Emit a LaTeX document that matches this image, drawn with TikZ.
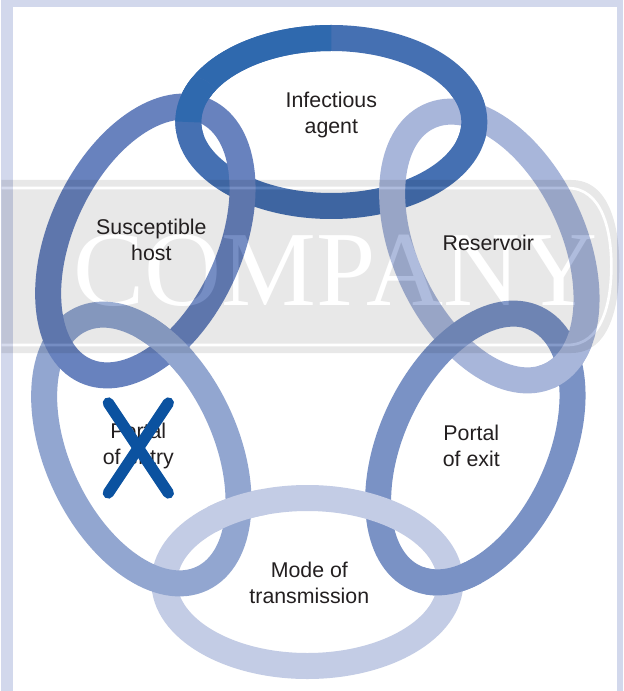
\documentclass[tikz,border=0pt]{standalone}
\usepackage{fontspec}
\setmainfont{Liberation Sans}
\newfontfamily\markfont{Liberation Serif}
\usepackage{tikz}
\usetikzlibrary{positioning}
\usepackage{xcolor}
\definecolor{frameblue}{HTML}{D2D8EC}
\definecolor{agentdark}{HTML}{2F69AE}
\definecolor{agentblue}{HTML}{4570B2}
\definecolor{hostblue}{HTML}{6882BE}
\definecolor{reservoirblue}{HTML}{A8B6DA}
\definecolor{exitblue}{HTML}{7A92C5}
\definecolor{modeblue}{HTML}{C3CCE5}
\definecolor{entryblue}{HTML}{92A6D0}
\definecolor{crossblue}{HTML}{0B52A0}
\definecolor{labelgray}{HTML}{231F20}
\newcommand{\ringpath}{(0,0) ellipse [x radius=143, y radius=84]}
\newcommand{\darkpart}{(180:143 and 84) arc [start angle=180, end angle=270, x radius=143, y radius=84]}

\begin{document}
\begin{tikzpicture}[
  x=0.75pt, y=-0.75pt,
  ring/.style={line width=19.5pt},
  agentring/.style={ring, agentblue, shift={(330,122)}},
  hostring/.style={ring, hostblue, shift={(144,241)}, rotate=65},
  reservoirring/.style={ring, reservoirblue, shift={(488,246)}, rotate=-65},
  exitring/.style={ring, exitblue, shift={(474,448)}, rotate=65},
  modering/.style={ring, modeblue, shift={(306,582)}},
  entryring/.style={ring, entryblue, shift={(140,449)}, rotate=-65},
  ringtext/.style={align=center, text=labelgray, font=\fontsize{16}{19.5}\selectfont},
  cross/.style={crossblue, line width=8.5pt, line cap=round}
]
\fill[frameblue] (0,0) rectangle (622,691);
\fill[white] (12,7) rectangle (616,691);

\draw[agentring] \ringpath;
\draw[agentring, agentdark] \darkpart;
\draw[reservoirring] \ringpath;
\draw[exitring] \ringpath;
\draw[modering] \ringpath;
\draw[entryring] \ringpath;
\draw[hostring] \ringpath;

\begin{scope}
  \clip (471,115) circle (30);
  \draw[agentring] \ringpath;
\end{scope}
\begin{scope}
  \clip (190,107) circle (30);
  \draw[agentring] \ringpath;
  \draw[agentring, agentdark] \darkpart;
\end{scope}
\begin{scope}
  \clip (566,362) circle (30);
  \draw[reservoirring] \ringpath;
\end{scope}
\begin{scope}
  \clip (450,580) circle (30);
  \draw[exitring] \ringpath;
\end{scope}
\begin{scope}
  \clip (236,510) circle (30);
  \draw[modering] \ringpath;
\end{scope}
\begin{scope}
  \clip (164,345) circle (30);
  \draw[entryring] \ringpath;
\end{scope}

\begin{scope}[transparency group, opacity=0.09]
  \fill[black] (0,180) -- (570,180) to[out=0, in=90] (618,266) to[out=-90, in=0] (570,353) -- (0,353) -- cycle;
  \draw[white, line width=2pt] (0,188) -- (566,188) to[out=0, in=90] (610,266) to[out=-90, in=0] (566,345) -- (0,345);
  \node[white, anchor=base, font=\markfont\fontsize{80}{80}\selectfont] (mark) at (334,305) {COMPANY};
\end{scope}

\node[ringtext] (agent) at (330,115) {Infectious\\agent};
\node[ringtext] (host) at (150,240) {Susceptible\\host};
\node[ringtext] (reservoir) at (487,243) {Reservoir};
\node[ringtext] (exit) at (470,446) {Portal\\of exit};
\node[ringtext] (mode) at (308,583) {Mode of\\transmission};
\node[ringtext] (entry) at (137,446) {Portal\\of entry};

\draw[cross] (107,403) -- (167,493);
\draw[cross] (167,403) -- (107,493);
\end{tikzpicture}
\end{document}
